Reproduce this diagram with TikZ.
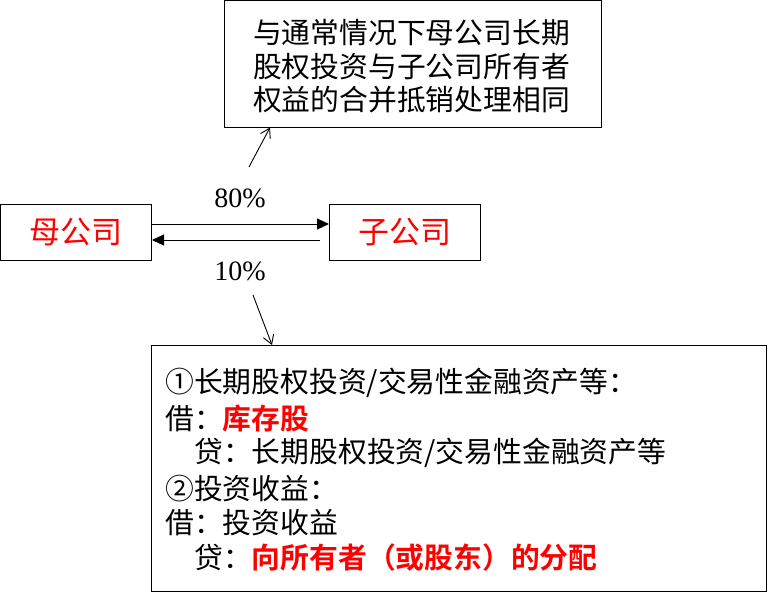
\documentclass[tikz,border=0pt]{standalone}
\usepackage{fontspec}
\setmainfont{Liberation Serif}
\newfontfamily\cjk{Noto Sans CJK SC}
\newfontfamily\cjkb{Noto Sans CJK SC Bold}
\usetikzlibrary{arrows.meta}
\definecolor{pured}{RGB}{255,0,0}
\tikzset{
  box/.style={draw=black, line width=1pt, rectangle, inner sep=0pt},
  mainarr/.style={line width=1pt, -{Triangle[length=12pt,width=11pt]}},
  thinarr/.style={line width=0.9pt, -{Straight Barb[length=9pt,width=11pt]}},
  txt/.style={inner sep=0pt, anchor=west, font=\cjk\fontsize{28.8}{34}\selectfont},
  pct/.style={inner sep=0pt, font=\fontsize{28}{30}\selectfont},
  redb/.style={text=pured}
}
\begin{document}
\begin{tikzpicture}[x=1pt,y=-1pt]
\useasboundingbox (0,0) rectangle (768,592);
% top box
\node[box, minimum width=377pt, minimum height=126.5pt] (top) at (412.5,63.75) {};
\node[inner sep=0pt, align=center, font=\cjk\fontsize{28.8}{33.5}\selectfont] (toptxt) at (411.5,66.5)
  {与通常情况下母公司长期\\股权投资与子公司所有者\\权益的合并抵销处理相同};
% company boxes
\node[box, minimum width=151pt, minimum height=56pt, text=pured, font=\cjk\fontsize{31}{31}\selectfont] (mother) at (76,232) {母公司};
\node[box, minimum width=151pt, minimum height=56pt, text=pured, font=\cjk\fontsize{31}{31}\selectfont] (child) at (405,232) {子公司};
% arrows between
\draw[mainarr] (mother.east |- 0,224) -- (child.west |- 0,224);
\coordinate (cstart) at (320,240);
\draw[mainarr] (cstart) -- (mother.east |- 0,240);
% percentages
\node[pct] (p80) at (240,198) {80\%};
\node[pct] (p10) at (240,271) {10\%};
% bottom box
\node[box, minimum width=615pt, minimum height=246pt] (bot) at (459,468) {};
% diagonal arrows
\coordinate (u1) at (249,167);
\coordinate (u2) at (270,127.5);
\draw[thinarr] (u1) -- (u2);
\coordinate (d1) at (253,295);
\coordinate (d2) at (272,345);
\draw[thinarr] (d1) -- (d2);
% bottom text
\node[txt] (l1) at (165,383) {①长期股权投资/交易性金融资产等：};
\node[txt] (l2) at (165,419) {借：{\cjkb\color{pured}库存股}};
\node[txt] (l3) at (194,453) {贷：长期股权投资/交易性金融资产等};
\node[txt] (l4) at (165,489) {②投资收益：};
\node[txt] (l5) at (165,523) {借：投资收益};
\node[txt] (l6) at (194,558) {贷：{\cjkb\color{pured}向所有者（或股东）的分配}};
\end{tikzpicture}
\end{document}
